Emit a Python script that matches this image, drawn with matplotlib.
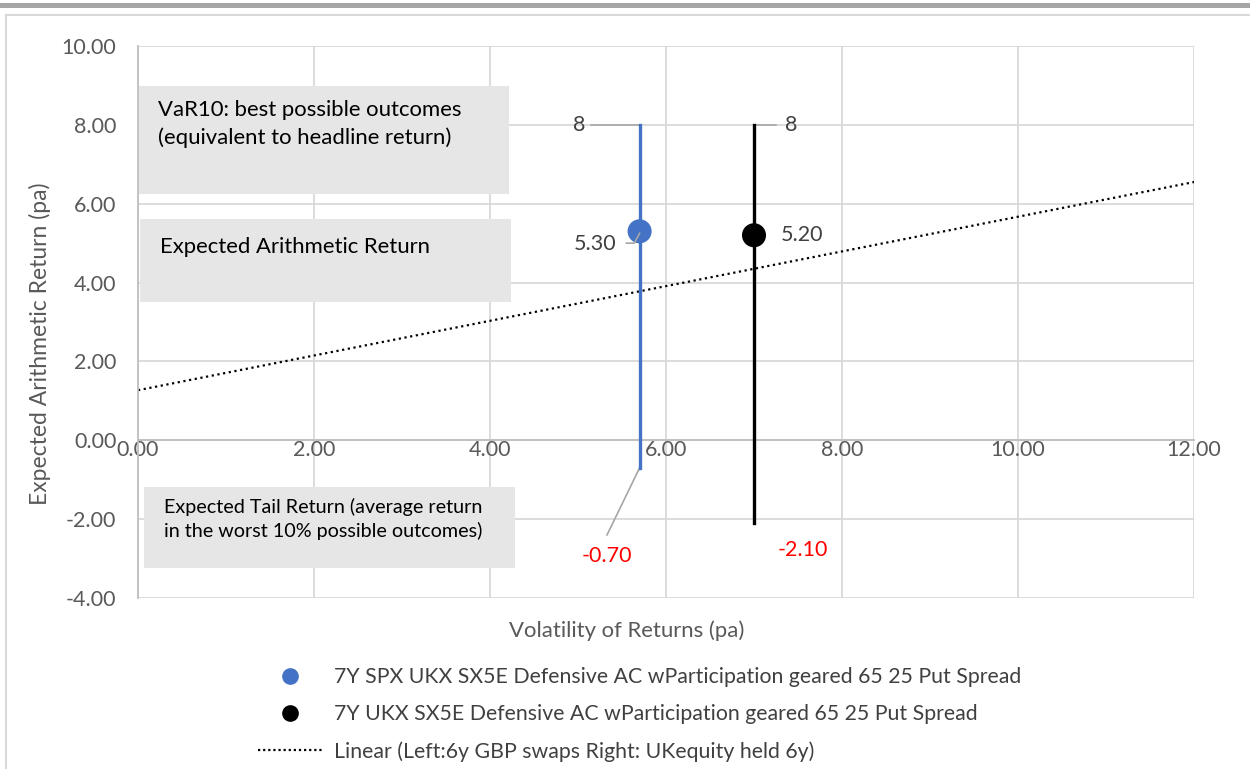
"""Risk/return chart: VaR10 range, expected return and tail return per product."""

import matplotlib

matplotlib.use("Agg")
import matplotlib.pyplot as plt
from matplotlib.lines import Line2D
from matplotlib.patches import Rectangle

# ---------------------------------------------------------------------------
# Data
# ---------------------------------------------------------------------------
SERIES_NAMES = [
    "7Y SPX UKX SX5E Defensive AC wParticipation geared 65 25 Put Spread",
    "7Y UKX SX5E Defensive AC wParticipation geared 65 25 Put Spread",
]
VOLATILITY = [5.70, 7.00]
EXPECTED_RETURN = [5.30, 5.20]
VAR10_BEST = [8.0, 8.0]
TAIL_RETURN = [-0.70, -2.10]

TREND_NAME = "Linear (Left:6y GBP swaps Right: UKequity held 6y)"
TREND_X = [0.0, 12.0]
TREND_Y = [1.27, 6.55]

X_TICKS = [0, 2, 4, 6, 8, 10, 12]
Y_TICKS = [-4, -2, 0, 2, 4, 6, 8, 10]

# ---------------------------------------------------------------------------
# Style
# ---------------------------------------------------------------------------
BLUE = "#4472C4"
BLACK = "#000000"
RED = "#FF0000"
TEXT = "#404040"
AXIS_TEXT = "#595959"
GRID = "#D9D9D9"
LEADER = "#A6A6A6"
BOX = "#E6E6E6"
COLORS = [BLUE, BLACK]
LABEL_FS = 15.5

plt.rcParams["font.family"] = ["Lato", "DejaVu Sans"]

fig = plt.figure(figsize=(12.5, 7.69), dpi=100, facecolor="white")
ax = fig.add_axes([138 / 1250, 1 - 598 / 769, (1194 - 138) / 1250, (598 - 46) / 769])

# frame decorations (top bar and chart border)
fig.add_artist(Rectangle((0, 1 - 8 / 769), 1, 5 / 769, transform=fig.transFigure,
                         color="#A6A6A6", lw=0))
fig.add_artist(Line2D([6 / 1250, 1], [1 - 15 / 769] * 2, transform=fig.transFigure,
                      color=GRID, lw=1.5))
fig.add_artist(Line2D([6 / 1250] * 2, [0, 1 - 15 / 769], transform=fig.transFigure,
                      color=GRID, lw=1.5))

ax.set_xlim(0, 12)
ax.set_ylim(-4, 10)
ax.set_xticks(X_TICKS)
ax.set_yticks(Y_TICKS)
ax.set_xticklabels([f"{v:.2f}" for v in X_TICKS])
ax.set_yticklabels([f"{v:.2f}" for v in Y_TICKS])
ax.grid(True, color=GRID, lw=1.3)
ax.set_axisbelow(True)
for name, sp in ax.spines.items():
    if name in ("top", "right"):
        sp.set_visible(False)
    else:
        sp.set_color("#BFBFBF")
        sp.set_linewidth(1.3)
ax.spines["bottom"].set_position(("data", 0))
ax.tick_params(length=0, colors=AXIS_TEXT, labelsize=15.5)
ax.tick_params(axis="y", pad=15.5)
ax.tick_params(axis="x", pad=0)

# annotation boxes
box_specs = [
    (0.0, 6.25, 4.22, 2.73, "VaR10: best possible outcomes\n(equivalent to headline return)", 8.62, 15.9),
    (0.02, 3.50, 4.22, 2.10, "Expected Arithmetic Return", 5.15, 15.9),
    (0.07, -3.25, 4.21, 2.06, "Expected Tail Return (average return\nin the worst 10% possible outcomes)", -1.45, 14.2),
]
for x0, y0, w, h, label, ty, fs in box_specs:
    ax.add_patch(Rectangle((x0, y0), w, h, facecolor=BOX, edgecolor="none", zorder=1.5))
    ax.text(x0 + 0.23, ty, label, fontsize=fs, color="black", va="top", ha="left",
            linespacing=1.42, zorder=2)

# trend line
ax.plot(TREND_X, TREND_Y, color="black", ls=(0, (1, 1.6)), lw=1.6, zorder=2.5)

# range lines and markers
for i in range(len(VOLATILITY)):
    ax.plot([VOLATILITY[i]] * 2, [TAIL_RETURN[i], VAR10_BEST[i]], color=COLORS[i],
            lw=2.4, zorder=3)
    ax.scatter([VOLATILITY[i]], [EXPECTED_RETURN[i]], s=300, color=COLORS[i], zorder=4,
               edgecolor="none")

# data labels with leader lines
ax.plot([VOLATILITY[0] - 0.55, VOLATILITY[0]], [VAR10_BEST[0]] * 2, color=LEADER, lw=1.2, zorder=2.8)
ax.text(VOLATILITY[0] - 0.62, VAR10_BEST[0], f"{VAR10_BEST[0]:.0f}", color=TEXT,
        fontsize=LABEL_FS, ha="right", va="center")
ax.plot([VOLATILITY[1], VOLATILITY[1] + 0.25], [VAR10_BEST[1]] * 2, color=LEADER, lw=1.2, zorder=2.8)
ax.text(VOLATILITY[1] + 0.35, VAR10_BEST[1], f"{VAR10_BEST[1]:.0f}", color=TEXT,
        fontsize=LABEL_FS, ha="left", va="center")

ax.plot([VOLATILITY[0] - 0.15, VOLATILITY[0] - 0.06, VOLATILITY[0]],
        [EXPECTED_RETURN[0] - 0.3, EXPECTED_RETURN[0] - 0.3, EXPECTED_RETURN[0] - 0.05],
        color=LEADER, lw=1.2, zorder=4.5)
ax.text(VOLATILITY[0] - 0.26, EXPECTED_RETURN[0] - 0.33, f"{EXPECTED_RETURN[0]:.2f}",
        color=TEXT, fontsize=LABEL_FS, ha="right", va="center")
ax.text(VOLATILITY[1] + 0.3, EXPECTED_RETURN[1], f"{EXPECTED_RETURN[1]:.2f}",
        color=TEXT, fontsize=LABEL_FS, ha="left", va="center")

ax.plot([VOLATILITY[0], VOLATILITY[0] - 0.37], [TAIL_RETURN[0], TAIL_RETURN[0] - 1.7],
        color=LEADER, lw=1.2, zorder=2.8)
ax.text(VOLATILITY[0] - 0.37, TAIL_RETURN[0] - 2.23, f"{TAIL_RETURN[0]:.2f}",
        color=RED, fontsize=LABEL_FS, ha="center", va="center")
ax.text(VOLATILITY[1] + 0.55, TAIL_RETURN[1] - 0.68, f"{TAIL_RETURN[1]:.2f}",
        color=RED, fontsize=LABEL_FS, ha="center", va="center")

# axis titles
fig.text(40 / 1250, 1 - 344 / 769, "Expected Arithmetic Return (pa)", rotation=90,
         ha="center", va="center", color=AXIS_TEXT, fontsize=16.5)
fig.text(627 / 1250, 1 - 631 / 769, "Volatility of Returns (pa)", ha="center",
         va="center", color=AXIS_TEXT, fontsize=15.9)

# legend
handles = [
    Line2D([], [], ls="none", marker="o", markersize=11, color=BLUE),
    Line2D([], [], ls="none", marker="o", markersize=11, color=BLACK),
    Line2D([], [], ls=(0, (1, 1.3)), lw=1.6, color="black"),
]
fig.legend(handles, SERIES_NAMES + [TREND_NAME], loc="upper left",
           bbox_to_anchor=(258 / 1250, 1 - 667 / 769), frameon=False, fontsize=15.3,
           labelcolor=TEXT, handlelength=3.0, handletextpad=0.56, labelspacing=0.8,
           borderpad=0, borderaxespad=0)

fig.savefig("out.png", dpi=100, facecolor="white")
